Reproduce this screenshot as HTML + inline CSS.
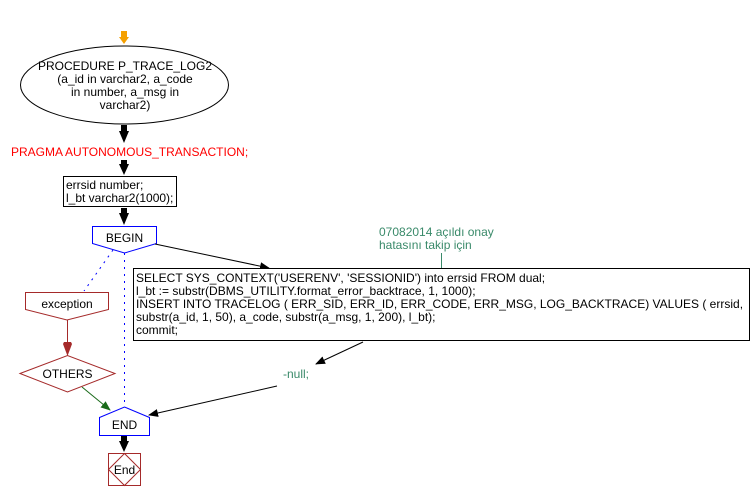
<!DOCTYPE html>
<html><head><meta charset="utf-8"><style>
html,body{margin:0;padding:0;background:#fff;}
svg{display:block;font-family:"Liberation Sans",Arial,sans-serif;font-size:12px;}
</style></head><body>
<svg width="752" height="500" viewBox="0 0 752 500" xmlns="http://www.w3.org/2000/svg">
<defs>
<marker id="ab" markerWidth="10" markerHeight="10" refX="9" refY="5" orient="auto" markerUnits="userSpaceOnUse"><path d="M0,1 L10,5 L0,9 z" fill="#000"/></marker>
<marker id="ag" markerWidth="10" markerHeight="10" refX="9" refY="5" orient="auto" markerUnits="userSpaceOnUse"><path d="M0,1 L10,5 L0,9 z" fill="#1a6a1a"/></marker>
</defs>
<!-- orange start arrow -->
<path d="M121,31 L127,31 L127,37 L129,37 L124,44 L119,37 L121,37 z" fill="#f5a000"/>
<!-- ellipse -->
<ellipse cx="124.5" cy="85" rx="104" ry="39" fill="#fff" stroke="#000"/>
<g text-anchor="middle" fill="#000">
<text x="125" y="70">PROCEDURE  P_TRACE_LOG2</text>
<text x="125" y="83">(a_id in varchar2, a_code</text>
<text x="125" y="96">in number, a_msg in</text>
<text x="125" y="109">varchar2)</text>
</g>
<!-- arrows down -->
<path d="M121,125 L127,125 L127,131 L129,131 L124,143 L119,131 L121,131 z" fill="#000"/>
<text x="11" y="156" fill="#ff0000">PRAGMA AUTONOMOUS_TRANSACTION;</text>
<path d="M121,160 L127,160 L127,164 L129,164 L124,175 L119,164 L121,164 z" fill="#000"/>
<rect x="63.5" y="176.5" width="113" height="30" fill="#fff" stroke="#000"/>
<text x="66" y="189">errsid number;</text>
<text x="66" y="202">l_bt varchar2(1000);</text>
<path d="M121,208 L127,208 L127,213 L129,213 L124,225 L119,213 L121,213 z" fill="#000"/>
<!-- BEGIN -->
<path d="M92.5,226.5 L156.5,226.5 L156.5,243.5 L124.5,253 L92.5,243.5 z" fill="#fff" stroke="#0000ff"/>
<text x="124.5" y="242" text-anchor="middle">BEGIN</text>
<!-- dotted -->
<line x1="124.5" y1="253" x2="124.5" y2="407" stroke="#0000ff" stroke-dasharray="2,5"/>
<line x1="113" y1="250" x2="84" y2="291" stroke="#0000ff" stroke-dasharray="2,5"/>
<!-- begin to box -->
<line x1="155" y1="244" x2="269" y2="268" stroke="#000" marker-end="url(#ab)"/>
<!-- main box -->
<rect x="133.5" y="268.5" width="616" height="72" fill="#fff" stroke="#000"/>
<g fill="#000">
<text x="136" y="282">SELECT SYS_CONTEXT('USERENV', 'SESSIONID') into errsid FROM dual;</text>
<text x="136" y="295">l_bt := substr(DBMS_UTILITY.format_error_backtrace, 1, 1000);</text>
<text x="136" y="308">INSERT INTO TRACELOG ( ERR_SID, ERR_ID, ERR_CODE, ERR_MSG, LOG_BACKTRACE) VALUES ( errsid,</text>
<text x="136" y="321">substr(a_id, 1, 50), a_code, substr(a_msg, 1, 200), l_bt);</text>
<text x="136" y="334">commit;</text>
</g>
<!-- comment -->
<text x="379" y="236" fill="#3a8a6a">07082014 açıldı onay</text>
<text x="379" y="249" fill="#3a8a6a">hatasını takip için</text>
<line x1="441.5" y1="253" x2="441.5" y2="268" stroke="#3a8a6a"/>
<!-- box to null -->
<line x1="363" y1="342" x2="316" y2="364" stroke="#000" marker-end="url(#ab)"/>
<text x="283" y="378" fill="#3a8a6a">-null;</text>
<line x1="277" y1="386" x2="149" y2="415" stroke="#000" marker-end="url(#ab)"/>
<!-- exception -->
<path d="M25.5,292.5 L108.5,292.5 L108.5,309.5 L67,320 L25.5,309.5 z" fill="#fff" stroke="#a52a2a"/>
<text x="67" y="308" text-anchor="middle">exception</text>
<line x1="67.5" y1="320" x2="67.5" y2="344" stroke="#a52a2a"/>
<path d="M64,342 L71,342 L72,344 L67.5,356 L63,344 z" fill="#a52a2a"/>
<!-- OTHERS -->
<path d="M20,373.5 L67.5,355.5 L115,373.5 L67.5,392 z" fill="#fff" stroke="#a52a2a"/>
<text x="67.5" y="378" text-anchor="middle">OTHERS</text>
<line x1="82" y1="387" x2="110" y2="410" stroke="#1a6a1a" marker-end="url(#ag)"/>
<!-- END -->
<path d="M99.5,435.5 L99.5,417.5 L124.5,407 L149.5,417.5 L149.5,435.5 z" fill="#fff" stroke="#0000ff"/>
<text x="124.5" y="429" text-anchor="middle">END</text>
<path d="M121,436 L127,436 L127,441 L129,441 L124,452 L119,441 L121,441 z" fill="#000"/>
<!-- End terminal -->
<rect x="108.5" y="453.5" width="32" height="32" fill="#fff" stroke="#a52a2a"/>
<path d="M108.5,469.5 L124.5,453.5 L140.5,469.5 L124.5,485.5 z" fill="none" stroke="#a52a2a"/>
<text x="124.5" y="474" text-anchor="middle">End</text>
</svg>
</body></html>
